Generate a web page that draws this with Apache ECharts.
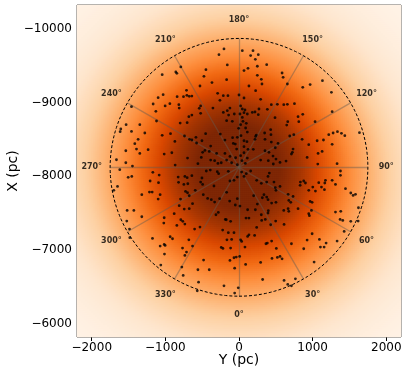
<!DOCTYPE html>
<html><head><meta charset="utf-8">
<script src="https://cdn.jsdelivr.net/npm/echarts@6/dist/echarts.min.js"></script>
<style>html,body{margin:0;padding:0;background:#fff}#c{width:407px;height:375px}</style>
</head><body><div id="c"></div>
<script>
// Axis ranges (pc)
const yRange = [-2200, 2200];          // horizontal axis "Y (pc)"
const xRange = [-10326, -5818];        // vertical axis "X (pc)" (inverted)
const yTicks = [-2000, -1000, 0, 1000, 2000];
const xTicks = [-10000, -9000, -8000, -7000, -6000];
// Sun-centred frame
const centerY = 0, centerX = -8122;
const circleRadius = 1750;
const labelRadius = 2000;
const spokeAngles = [0, 30, 60, 90, 120, 150, 180, 210, 240, 270, 300, 330];
const angleLabels = ['0°','30°','60°','90°','120°','150°','180°','210°','240°','270°','300°','330°'];
// Stars: [Y, X] in pc
const stars = [
[-790,-9485],[-858,-9417],[-844,-9398],[-1043,-9380],[-713,-9167],[-1030,-9109],[-1098,-9068],[-840,-9081],[-754,-9081],[-708,-9099],[-676,-9086],[-640,-9090],[-1166,-8982],[-1003,-8955],[-939,-8986],[-817,-8973],[-812,-8927],[-1460,-8945],[-1129,-8882],[-681,-8810],[-640,-8832],[-1120,-8751],[-799,-8723],[-704,-8728],[-1347,-8701],[-1533,-8701],[-1605,-8642],[-1614,-8606],[-1460,-8610],[-1279,-8588],[-1043,-8556],[-930,-8579],[-740,-8547],[-672,-8502],[-640,-8493],[-871,-8474],[-1370,-8502],[-1415,-8443],[-1392,-8370],[-1234,-8361],[-1537,-8347],[-1347,-8311],[-1016,-8302],[-912,-8320],[-699,-8248],[-1664,-8225],[-1537,-8184],[-1447,-8139],[-867,-8153],
[-204,-9729],[-272,-9652],[45,-9706],[190,-9706],[158,-9639],[262,-9652],[222,-9589],[-159,-9512],[-449,-9448],[-476,-9358],[122,-9466],[68,-9435],[249,-9494],[376,-9516],[249,-9371],[303,-9317],[-168,-9312],[-367,-9272],[312,-9253],[-530,-9226],[135,-9226],[226,-9163],[-290,-9127],[-213,-9095],[-150,-9095],[0,-9104],[68,-9063],[-259,-9032],[294,-9045],[521,-8977],[439,-8973],[22,-8955],[-521,-8955],[-540,-8923],[-354,-8927],[-123,-8927],[45,-8914],[81,-8900],[271,-8914],[385,-8909],[-159,-8891],[-213,-8868],[-521,-8855],[-64,-8846],[-141,-8832],[13,-8846],[68,-8864],[113,-8846],[181,-8868],[217,-8873],[262,-8837],[45,-8800],[-168,-8755],[-91,-8746],[54,-8746],[99,-8719],[489,-8796],[430,-8633],[348,-8588],[22,-8701],[-5,-8651],[90,-8656],[113,-8601],[235,-8560],[226,-8542],[-453,-8579],[-254,-8574],[-191,-8492],[-87,-8524],[-23,-8529],[27,-8551],[68,-8483],[108,-8470],[217,-8502],[353,-8502],[434,-8565],[439,-8465],[530,-8447],[-585,-8529],[-503,-8483],[-576,-8452],[-385,-8411],[-77,-8447],[-50,-8438],[-32,-8370],[68,-8402],[122,-8366],[194,-8366],[353,-8347],[493,-8388],[-404,-8338],[-494,-8325],[-463,-8352],[-304,-8311],[-191,-8311],[-123,-8270],[-46,-8252],[22,-8280],[68,-8320],[113,-8248],[407,-8325],[462,-8275],[502,-8234],[557,-8189],[-512,-8257],[-385,-8221],[-286,-8175],[-331,-8212],[-168,-8221],[-241,-8184],[-100,-8184],[40,-8212],[86,-8175],[-23,-8157],[294,-8221],[398,-8212],[466,-8167],[-558,-8171],
[599,-9344],[657,-9253],[866,-9208],[966,-9245],[1133,-9299],[1255,-9140],[608,-8973],[657,-8977],[753,-8986],[802,-8810],[866,-8841],[662,-8742],[648,-8696],[812,-8742],[1033,-8742],[1265,-8878],[1219,-8565],[1278,-8588],[1337,-8606],[1391,-8583],[1437,-8551],[1636,-8592],[689,-8547],[744,-8565],[857,-8502],[947,-8429],[1061,-8483],[1147,-8493],[1265,-8434],[734,-8370],[725,-8325],[712,-8302],[1074,-8311],[1129,-8338],[925,-8257],[639,-8207],[1070,-8166],[1332,-8171],[585,-9403],
[-1619,-8090],[-1505,-7986],[-1456,-7999],[-1170,-8054],[-1084,-8017],[-1093,-7913],[-1207,-7936],[-826,-7990],[-735,-7999],[-704,-7981],[-640,-8008],[-821,-7918],[-749,-7890],[-695,-7899],[-726,-7795],[-1700,-7809],[-1650,-7863],[-1216,-7786],[-1179,-7786],[-1320,-7750],[-1071,-7750],[-1098,-7691],[-794,-7691],[-699,-7777],[-676,-7736],[-812,-7601],[-744,-7555],[-676,-7560],[-880,-7492],[-631,-7628],[-1519,-7537],[-1428,-7537],[-1320,-7451],[-1016,-7437],[-1524,-7392],[-1021,-7365],[-844,-7333],[-790,-7410],[-763,-7388],[-735,-7351],[-1487,-7283],[-1483,-7166],[-1175,-7157],[-935,-7179],[-903,-7152],[-681,-7138],[-1016,-7075],[-1003,-7061],[-1071,-7052],[-767,-7025],[-713,-6971],[-735,-6926],[-631,-7052],[-1012,-6944],[-1062,-6794],[-776,-6767],[-758,-6654],
[-444,-8072],[-390,-8085],[-295,-8063],[-277,-8035],[-145,-8067],[36,-8058],[99,-8035],[158,-8072],[68,-7999],[-23,-7990],[-68,-7945],[-123,-7936],[-503,-7977],[-521,-7922],[-494,-7890],[-340,-7868],[240,-7945],[303,-7904],[376,-7922],[394,-7999],[412,-8044],[475,-7922],[493,-7845],[557,-7863],[502,-7809],[-594,-7809],[-485,-7750],[-426,-7700],[-376,-7682],[-331,-7650],[-263,-7696],[-168,-7782],[-127,-7664],[-23,-7696],[-50,-7610],[13,-7596],[199,-7736],[339,-7750],[317,-7709],[376,-7718],[394,-7682],[443,-7637],[502,-7646],[249,-7623],[117,-7546],[222,-7546],[398,-7533],[303,-7478],[394,-7501],[357,-7415],[308,-7401],[-281,-7510],[-313,-7478],[-186,-7415],[-173,-7410],[-114,-7388],[95,-7433],[135,-7433],[240,-7306],[430,-7342],[498,-7392],[-603,-7283],[-530,-7311],[-222,-7270],[-145,-7234],[-68,-7234],[135,-7206],[212,-7197],[117,-7184],[36,-7116],[-164,-7138],[-100,-7143],[-241,-7034],[-218,-7021],[-114,-7025],[81,-7039],[22,-7138],[385,-7093],[366,-7084],[443,-7120],[507,-7021],[521,-6898],[448,-6885],[557,-6912],[-68,-6894],[-37,-6903],[9,-6912],[-123,-6858],[-481,-6862],[-558,-6731],[-404,-6731],[90,-6803],[-59,-6753],[294,-6830],[-549,-6563],[-204,-6513],[321,-6599],[-10,-6486],[-567,-6445],[-59,-6414],
[834,-7922],[879,-7936],[902,-7909],[830,-7877],[947,-7809],[1002,-7854],[1038,-7800],[1083,-7913],[1120,-7854],[1165,-7909],[1160,-7818],[1265,-7945],[1174,-7945],[1310,-7890],[1378,-8072],[1378,-8013],[1446,-7832],[1518,-7773],[1550,-7741],[1582,-7755],[667,-7755],[734,-7727],[676,-7673],[703,-7646],[966,-7659],[993,-7646],[947,-7492],[956,-7465],[984,-7537],[667,-7560],[608,-7537],[676,-7524],[802,-7560],[612,-7347],[1310,-7514],[1382,-7524],[1373,-7415],[1409,-7401],[1518,-7388],[1618,-7392],[1622,-7573],[1428,-7252],[993,-7220],[925,-7134],[1092,-7143],[1183,-7093],[1106,-7039],[1156,-7039],[1332,-7120],[879,-7016],[712,-7084],[1020,-6835],[766,-6608],[612,-6586],[662,-6532],[712,-6513],[585,-6880]
];
// Colour map (matplotlib "Oranges")
const orangesCmap = ['#fff5eb','#fee6ce','#fdd0a2','#fdae6b','#fd8d3c','#f16913','#d94801','#a63603','#7f2704'];
const kdeBandwidth = 850;

// Density grid: Gaussian KDE of the stars (separable kernel)
const nx = 162, ny = 166;
const dy = (yRange[1]-yRange[0])/nx, dx = (xRange[1]-xRange[0])/ny;
const catY = [], catX = [];
for (let i=0;i<nx;i++) catY.push(String(i));
for (let j=0;j<ny;j++) catX.push(String(j));
const h2 = 2*kdeBandwidth*kdeBandwidth;
const ky = stars.map(p => { const r=[]; for (let i=0;i<nx;i++){ const a=p[0]-(yRange[0]+(i+0.5)*dy); r.push(Math.exp(-a*a/h2)); } return r; });
const kx = stars.map(p => { const r=[]; for (let j=0;j<ny;j++){ const b=p[1]-(xRange[0]+(j+0.5)*dx); r.push(Math.exp(-b*b/h2)); } return r; });
const dens = [];
let vmax = 0;
for (let j=0;j<ny;j++){
  for (let i=0;i<nx;i++){
    let s = 0;
    for (let k=0;k<stars.length;k++) s += ky[k][i]*kx[k][j];
    dens.push([i,j,s]);
    if (s>vmax) vmax=s;
  }
}
const heat = dens.map(d => [d[0], d[1], d[2]/vmax]);

const spokes = spokeAngles.map(a => {
  const t = a*Math.PI/180;
  return {coords: [[centerY, centerX], [centerY + circleRadius*Math.sin(t), centerX + circleRadius*Math.cos(t)]]};
});
const circle = [];
for (let a=0;a<=360;a+=2){
  const t=a*Math.PI/180;
  circle.push([centerY + circleRadius*Math.sin(t), centerX + circleRadius*Math.cos(t)]);
}
const labels = spokeAngles.map((a,k) => {
  const t=a*Math.PI/180;
  return {name: angleLabels[k], value: [centerY + labelRadius*Math.sin(t), centerX + labelRadius*Math.cos(t)]};
});

const minus = v => String(v).replace('-', '\u2212');
const font = 'DejaVu Sans';
const chart = echarts.init(document.getElementById('c'), null, {renderer:'canvas'});
chart.setOption({
  animation: false,
  backgroundColor: '#fff',
  textStyle: {fontFamily: font},
  grid: {left: 77, right: 6, top: 5, bottom: 38, containLabel: false, outerBoundsMode: 'none',
         show: true, borderColor: '#333', borderWidth: 1, backgroundColor: 'transparent'},
  xAxis: [
    {type: 'value', min: yRange[0], max: yRange[1], name: 'Y (pc)', nameLocation: 'middle', nameGap: 16, nameMoveOverlap: false,
     nameTextStyle: {fontSize: 14, color: '#000', fontFamily: font},
     axisLine: {show: false}, splitLine: {show: false},
     axisTick: {show: true, length: 4, lineStyle: {color: '#000'}, customValues: yTicks},
     axisLabel: {fontSize: 12, color: '#000', margin: 5, fontFamily: font, customValues: yTicks, formatter: minus}},
    {type: 'category', data: catY, show: false, gridIndex: 0}
  ],
  yAxis: [
    {type: 'value', inverse: true, min: xRange[0], max: xRange[1], name: 'X (pc)', nameLocation: 'middle', nameGap: 57, nameRotate: 90, nameMoveOverlap: false,
     nameTextStyle: {fontSize: 14, color: '#000', fontFamily: font},
     axisLine: {show: false}, splitLine: {show: false},
     axisTick: {show: true, length: 4, lineStyle: {color: '#000'}, customValues: xTicks},
     axisLabel: {fontSize: 12, color: '#000', margin: 5, fontFamily: font, customValues: xTicks, formatter: minus}},
    {type: 'category', data: catX, show: false, inverse: true, gridIndex: 0}
  ],
  visualMap: {type: 'continuous', show: false, min: 0, max: 0.9, seriesIndex: 0, inRange: {color: orangesCmap}},
  series: [
    {type: 'heatmap', xAxisIndex: 1, yAxisIndex: 1, data: heat, progressive: 0, itemStyle: {borderWidth: 0}, emphasis: {disabled: true}, z: 1},
    {type: 'lines', coordinateSystem: 'cartesian2d', xAxisIndex: 0, yAxisIndex: 0, data: spokes, silent: true,
     lineStyle: {color: 'rgba(100,90,80,0.45)', width: 1.3, opacity: 1}, z: 2},
    {type: 'line', xAxisIndex: 0, yAxisIndex: 0, data: circle, showSymbol: false, silent: true,
     lineStyle: {color: '#000', width: 1, type: [3, 2]}, z: 3},
    {type: 'scatter', xAxisIndex: 0, yAxisIndex: 0, data: stars, symbolSize: 2.8, itemStyle: {color: '#000'}, silent: true, z: 4},
    {type: 'scatter', xAxisIndex: 0, yAxisIndex: 0, data: labels, symbolSize: 0, silent: true, z: 5,
     label: {show: true, position: 'inside', formatter: '{b}', fontSize: 8, fontWeight: 'bold', color: '#000', fontFamily: font}}
  ]
});
</script></body></html>
